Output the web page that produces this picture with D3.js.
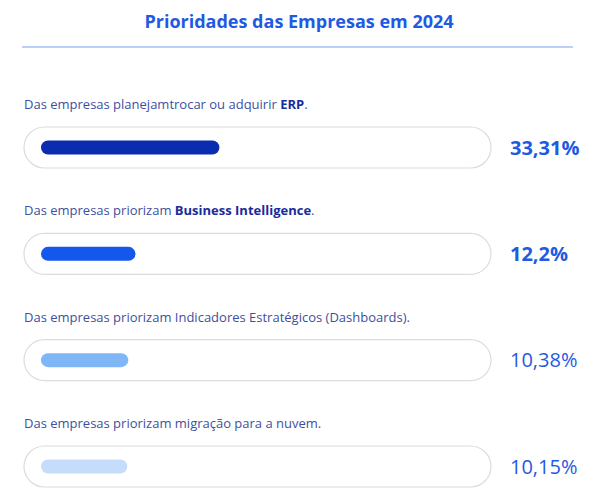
<!DOCTYPE html>
<html>
<head>
<meta charset="utf-8">
<script src="https://cdn.jsdelivr.net/npm/d3@7"></script>
<style>
  body { margin: 0; background: #fff; }
  svg { font-family: "Open Sans", "Noto Sans", sans-serif; }
</style>
</head>
<body>
<svg id="chart" width="600" height="500"></svg>
<script>
// chart data
var title = "Prioridades das Empresas em 2024";
var labelStart = ["Das empresas planejamtrocar ou adquirir ", "Das empresas priorizam ", "Das empresas priorizam Indicadores Estratégicos (Dashboards).", "Das empresas priorizam migração para a nuvem."];
var labelBold = ["ERP", "Business Intelligence", "", ""];
var labelEnd = [".", ".", "", ""];
var values = [33.31, 12.2, 10.38, 10.15];
var valueLabels = ["33,31%", "12,2%", "10,38%", "10,15%"];
var highlighted = [true, true, false, false];

var barColors = ["#0a2db0", "#1357ec", "#7fb6f6", "#c5dcfb"];

var svg = d3.select("#chart");

// title and rule under it
svg.append("text")
  .attr("x", 299)
  .attr("y", 28)
  .attr("text-anchor", "middle")
  .attr("font-size", 18)
  .attr("font-weight", 700)
  .attr("fill", "#1f5ae2")
  .text(title);

svg.append("line")
  .attr("x1", 22).attr("x2", 573)
  .attr("y1", 47).attr("y2", 47)
  .attr("stroke", "#a6c1f7")
  .attr("stroke-width", 1.5);

// rows
var rowY = d3.scaleLinear().domain([0, 3]).range([127, 446]);
var barW = d3.scaleLinear().domain([0, 40]).range([46, 205]);
var color = d3.scaleOrdinal().domain(d3.range(values.length)).range(barColors);

var rows = svg.selectAll("g.row")
  .data(values)
  .enter().append("g")
  .attr("class", "row")
  .attr("transform", function(d, i) { return "translate(0," + rowY(i) + ")"; });

var label = rows.append("text")
  .attr("x", 24)
  .attr("y", -18)
  .attr("font-size", 13)
  .attr("fill", "#3e4f9e");

label.append("tspan").text(function(d, i) { return labelStart[i]; });
label.append("tspan")
  .attr("font-weight", 700)
  .attr("fill", "#1a2b9c")
  .text(function(d, i) { return labelBold[i]; });
label.append("tspan").text(function(d, i) { return labelEnd[i]; });

// track
rows.append("rect")
  .attr("x", 24)
  .attr("y", 0)
  .attr("width", 467)
  .attr("height", 41)
  .attr("rx", 20.5)
  .attr("fill", "#fff")
  .attr("stroke", "#dcdcdc")
  .attr("stroke-width", 1.2);

// bar
rows.append("rect")
  .attr("x", 41)
  .attr("y", 13.5)
  .attr("width", function(d) { return barW(d); })
  .attr("height", 14)
  .attr("rx", 7)
  .attr("fill", function(d, i) { return color(i); });

// value
rows.append("text")
  .attr("x", 510)
  .attr("y", 20.5)
  .attr("dy", "0.36em")
  .attr("font-size", 20)
  .attr("font-weight", function(d, i) { return highlighted[i] ? 700 : 400; })
  .attr("fill", "#1f5ae2")
  .text(function(d, i) { return valueLabels[i]; });
</script>
</body>
</html>
